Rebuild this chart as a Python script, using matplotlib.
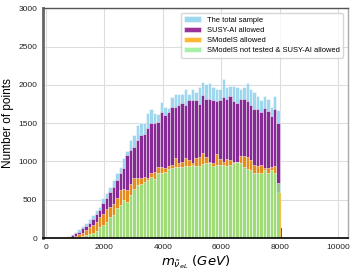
import numpy as np
import matplotlib
matplotlib.use("Agg")
import matplotlib.pyplot as plt

plt.rcParams['font.family'] = ['Liberation Sans', 'DejaVu Sans']
plt.rcParams['mathtext.fontset'] = 'dejavusans'

# Common bin edges (GeV), 62 bins from 730 to 8000
n_bins = 62
edges = np.linspace(730, 8000, n_bins + 1)

# Counts
total = [26, 55, 85, 115, 155, 200, 245, 300, 365, 410, 520, 585, 670, 755, 845, 930, 1040,
         1130, 1280, 1340, 1470, 1500, 1500, 1630, 1690, 1630, 1620, 1780, 1710, 1700, 1840,
         1880, 1880, 1880, 1940, 1880,
         1950, 1910, 1975, 2040, 2010, 2025, 1975, 1950, 1950, 2070, 1975, 1980, 1980, 1975,
         1940, 1965, 2020,
         1940, 1900, 1850, 1800, 1850, 1810, 1710, 1850, 1670]
susy_ai = [17, 40, 70, 80, 125, 155, 190, 245, 315, 365, 460, 520, 605, 670, 755, 845, 910,
           1080, 1150, 1185, 1280, 1340, 1355, 1430, 1500, 1500, 1510, 1640, 1600, 1640, 1710,
           1710, 1730, 1760, 1740, 1800,
           1800, 1800, 1755, 1865, 1810, 1810, 1800, 1790, 1800, 1845, 1810, 1850, 1790, 1765,
           1810, 1820, 1790,
           1730, 1690, 1680, 1640, 1700, 1660, 1590, 1690, 1500]
smodels = [9, 17, 30, 48, 70, 105, 140, 170, 215, 270, 320, 385, 410, 450, 520, 625, 635,
           625, 710, 780, 780, 778, 800, 790, 845, 865, 930, 930, 910, 940, 950, 1040,
           982, 995, 1039, 1017, 974, 1039, 1061, 1104, 1052, 995, 982, 1095, 1026, 995, 1026,
           1017, 995, 995, 1069, 1069, 1061, 1017, 952, 939, 952, 909, 909, 930, 939, 600]
not_tested = [0, 4, 9, 17, 30, 39, 52, 70, 96, 139, 170, 213, 278, 300, 387, 430, 496,
              475, 560, 635, 690, 705, 735, 760, 800, 770, 845, 850, 865, 905, 915, 925,
              922, 930, 939, 939, 952, 939, 939, 965, 974, 974, 939, 952, 952, 952, 939,
              952, 974, 995, 974, 930, 895, 887, 843, 843, 843, 887, 852, 887, 852, 720]

# narrow trailing bins of the separate histograms
tail_edges = [8000, 8025, 8035, 8085]
smodels_tail = [590, 0, 0]
susy_ai_tail = [0, 0, 130]

series = [
    (total, 'The total sample', 'skyblue'),
    (susy_ai, 'SUSY-AI allowed', 'purple'),
    (smodels, 'SModelS allowed', 'orange'),
    (not_tested, 'SModelS not tested & SUSY-AI allowed', 'lightgreen'),
]

fig, ax = plt.subplots(figsize=(3.57, 2.73), dpi=100)
fig.subplots_adjust(left=0.12, right=0.975, top=0.97, bottom=0.128)

for vals, label, color in series:
    ax.hist(edges[:-1], bins=edges, weights=vals, color=color, alpha=0.8,
            edgecolor='white', linewidth=0.4, label=label, zorder=2)

ax.hist(tail_edges[:-1], bins=tail_edges, weights=susy_ai_tail, color='purple',
        alpha=0.8, linewidth=0, zorder=2)
ax.hist(tail_edges[:-1], bins=tail_edges, weights=smodels_tail, color='orange',
        alpha=0.6, linewidth=0, zorder=2)

ax.set_xlim(-100, 10330)
ax.set_ylim(0, 3000)
ax.set_xticks([0, 2000, 4000, 6000, 8000, 10000])
ax.set_yticks([0, 500, 1000, 1500, 2000, 2500, 3000])
ax.tick_params(length=0, labelsize=6, pad=4, colors='#222222')
ax.grid(True, color='#dddddd', linewidth=0.8, zorder=0)
ax.set_axisbelow(True)

ax.spines['left'].set_color('#666666')
ax.spines['left'].set_linewidth(2)
ax.spines['bottom'].set_color('black')
ax.spines['bottom'].set_linewidth(1.2)
ax.spines['top'].set_color('#555555')
ax.spines['top'].set_linewidth(1.0)
ax.spines['right'].set_color('#aaaaaa')
ax.spines['right'].set_linewidth(1.0)

ax.set_ylabel('Number of points', fontsize=8.5, labelpad=3)
ax.set_xlabel(r'$m_{\tilde{\nu}_{eL}}\ (GeV)$', fontsize=9.5, labelpad=2)

ax.legend(loc='upper right', fontsize=5.4, frameon=True, edgecolor='#cccccc',
          fancybox=True, handlelength=2.2, borderpad=0.45, labelspacing=0.4,
          bbox_to_anchor=(0.995, 0.995))

plt.savefig('out.png', dpi=100)
